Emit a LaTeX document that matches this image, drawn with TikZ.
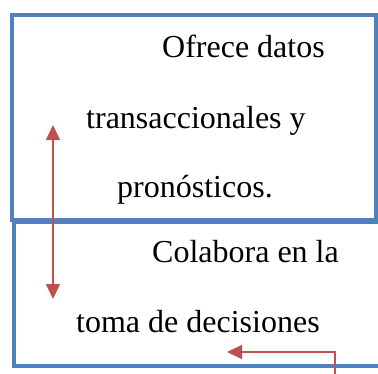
\documentclass[tikz,border=0pt]{standalone}
\usepackage{fontspec}
\setmainfont{Liberation Serif}
\usetikzlibrary{arrows.meta}
\definecolor{boxblue}{HTML}{4F81BD}
\definecolor{arrred}{HTML}{C0504D}
\begin{document}
\begin{tikzpicture}[x=1pt,y=-1pt,
  boxline/.style={draw=boxblue,line width=4pt},
  txt/.style={anchor=base west,inner sep=0pt,font=\fontsize{32}{38}\selectfont},
  redarrow/.style={draw=arrred,line width=1.5pt,-{Triangle[length=15pt,width=14pt]}}]
\useasboundingbox (0,0) rectangle (378,373);
\draw[boxline] (14,222) rectangle (384,366);
\draw[boxline] (12,15) rectangle (376,220);
\node[txt] (t1) at (162,57) {Ofrece datos};
\node[txt] (t2) at (86,128) {transaccionales y};
\node[txt] (t3) at (117,197) {pronósticos.};
\node[txt] (t4) at (152,262) {Colabora en la};
\node[txt] (t5) at (76,332) {toma de decisiones};
\coordinate (a1) at (53,125);
\coordinate (a2) at (53,299);
\draw[redarrow,{Triangle[length=15pt,width=14pt]}-{Triangle[length=15pt,width=14pt]}] (a1) -- (a2);
\coordinate (b1) at (335,380);
\coordinate (b2) at (227,352);
\draw[redarrow] (b1) |- (b2);
\end{tikzpicture}
\end{document}
